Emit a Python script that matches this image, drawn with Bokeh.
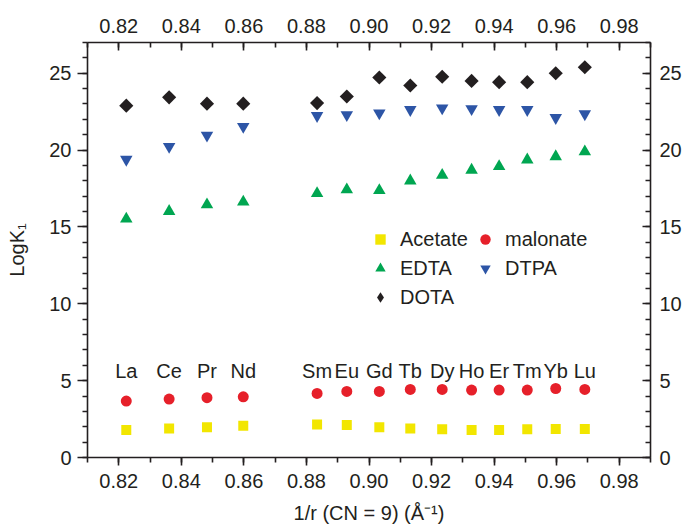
from bokeh.plotting import figure
from bokeh.models import LinearAxis, FixedTicker, PrintfTickFormatter, Legend, LegendItem, Range1d, ColumnDataSource
from bokeh.core.properties import value
from bokeh.embed import file_html
from bokeh.resources import INLINE
import numpy as np

# ---- data ----
elements = ["La", "Ce", "Pr", "Nd", "Sm", "Eu", "Gd", "Tb", "Dy", "Ho", "Er", "Tm", "Yb", "Lu"]
inv_r = [0.8224, 0.8361, 0.8482, 0.8598, 0.8834, 0.8929, 0.9033, 0.9132, 0.9234, 0.9328, 0.9416, 0.9506, 0.9597, 0.9690]
acetate = [1.79, 1.88, 1.97, 2.07, 2.14, 2.12, 1.97, 1.88, 1.84, 1.79, 1.79, 1.84, 1.86, 1.86]
malonate = [3.67, 3.80, 3.89, 3.95, 4.17, 4.30, 4.30, 4.43, 4.43, 4.39, 4.39, 4.39, 4.49, 4.43]
edta = [15.52, 16.02, 16.45, 16.63, 17.18, 17.42, 17.38, 18.00, 18.37, 18.70, 18.94, 19.37, 19.58, 19.90]
dtpa = [19.39, 20.23, 20.96, 21.53, 22.24, 22.30, 22.41, 22.63, 22.73, 22.69, 22.63, 22.63, 22.11, 22.35]
dota = [22.89, 23.43, 23.02, 23.02, 23.06, 23.49, 24.72, 24.20, 24.77, 24.50, 24.42, 24.42, 25.00, 25.39]

x_major = [0.82, 0.84, 0.86, 0.88, 0.90, 0.92, 0.94, 0.96, 0.98]
x_minor = [0.81, 0.82, 0.83, 0.84, 0.85, 0.86, 0.87, 0.88, 0.89, 0.90, 0.91, 0.92, 0.93, 0.94, 0.95, 0.96, 0.97, 0.98, 0.99]
y_major = [0, 5, 10, 15, 20, 25]
y_minor = list(range(0, 28))
label_y = 5.65

FONT = "Liberation Sans"
INK = "#231f20"
FS = "20px"

p = figure(width=685, height=526, x_range=Range1d(0.81, 0.99), y_range=Range1d(0, 27),
           output_backend="svg", toolbar_location=None,
           min_border_left=87, min_border_right=35, min_border_top=42, min_border_bottom=68)
p.xgrid.visible = False
p.ygrid.visible = False
p.outline_line_color = None
p.background_fill_color = "white"
p.border_fill_color = "white"

def style_axis(ax, tin, tout, mtin, mtout, standoff):
    ax.axis_line_color = INK
    ax.axis_line_width = 1.6
    ax.major_tick_line_color = INK
    ax.minor_tick_line_color = INK
    ax.major_tick_line_width = 1.6
    ax.minor_tick_line_width = 1.6
    ax.major_tick_in = tin
    ax.major_tick_out = tout
    ax.minor_tick_in = mtin
    ax.minor_tick_out = mtout
    ax.major_label_text_font = FONT
    ax.major_label_text_font_size = FS
    ax.major_label_text_color = INK
    ax.major_label_standoff = standoff
    ax.axis_label_text_font = FONT
    ax.axis_label_text_font_size = FS
    ax.axis_label_text_font_style = "normal"
    ax.axis_label_text_color = INK

xb = p.xaxis[0]
xb.ticker = FixedTicker(ticks=x_major, minor_ticks=x_minor)
xb.formatter = PrintfTickFormatter(format="%.2f")
style_axis(xb, 0, 8, 0, 5, 8)
xb.axis_label = "1/r (CN = 9) (Å⁻¹)"
xb.axis_label_standoff = 11

yl = p.yaxis[0]
yl.ticker = FixedTicker(ticks=y_major, minor_ticks=y_minor)
style_axis(yl, 0, 10, 0, 5, 6)
yl.axis_label = "LogK₁"
yl.axis_label_standoff = 18

xt = LinearAxis(ticker=FixedTicker(ticks=x_major, minor_ticks=x_minor),
                formatter=PrintfTickFormatter(format="%.2f"))
style_axis(xt, 8, 0, 5, 0, 10)
p.add_layout(xt, "above")

yr = LinearAxis(ticker=FixedTicker(ticks=y_major, minor_ticks=y_minor))
style_axis(yr, 8, 0, 5, 0, 9)
p.add_layout(yr, "right")

src = ColumnDataSource(dict(x=inv_r, el=elements, acetate=acetate, malonate=malonate,
                            edta=edta, dtpa=dtpa, dota=dota, ly=[label_y] * len(elements)))

r_ac = p.scatter("x", "acetate", source=src, marker="square", size=10,
                 fill_color="#f2e600", line_color=None)
r_mal = p.scatter("x", "malonate", source=src, marker="circle", size=11,
                  fill_color="#e6202a", line_color=None)
r_edta = p.scatter("x", "edta", source=src, marker="triangle", size=12.5,
                   fill_color="#00a651", line_color=None)
r_dtpa = p.scatter("x", "dtpa", source=src, marker="inverted_triangle", size=12.5,
                   fill_color="#2d55a6", line_color=None)
r_dota = p.scatter("x", "dota", source=src, marker="square", size=10, angle=np.pi / 4,
                   fill_color=INK, line_color=None)
# legend key for DOTA (legend keys ignore marker angle, so use a diamond key)
r_dota_key = p.scatter("x", "dota", source=src, marker="diamond", size=10,
                       fill_color=INK, line_color=None, visible=False)

p.text("x", "ly", text="el", source=src, text_align="center", text_baseline="alphabetic",
       text_font=value(FONT), text_font_size=FS, text_color=INK)

def make_legend(items, loc):
    lg = Legend(items=items, location=loc, padding=0, margin=0, spacing=3,
                glyph_width=26, glyph_height=26, label_height=26, label_standoff=7,
                border_line_color=None, background_fill_alpha=0,
                label_text_font=FONT, label_text_font_size=FS, label_text_color=INK)
    return lg

lg1 = make_legend([LegendItem(label="Acetate", renderers=[r_ac]),
                   LegendItem(label="EDTA", renderers=[r_edta]),
                   LegendItem(label="DOTA", renderers=[r_dota_key])], (280, 147))
lg2 = make_legend([LegendItem(label="malonate", renderers=[r_mal]),
                   LegendItem(label="DTPA", renderers=[r_dtpa])], (385, 176))
p.add_layout(lg1)
p.add_layout(lg2)

open("out.html", "w").write(file_html(p, INLINE))
